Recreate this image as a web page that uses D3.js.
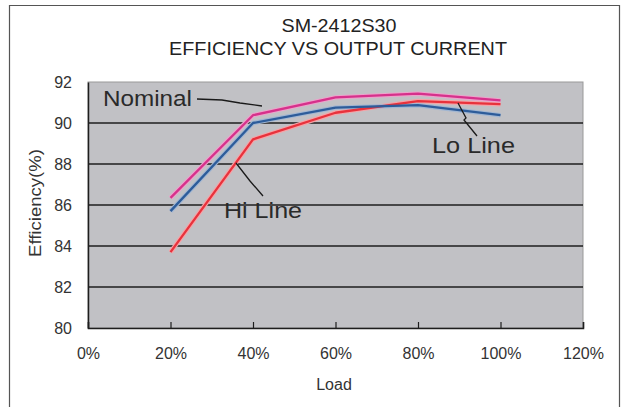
<!DOCTYPE html>
<html>
<head>
<meta charset="utf-8">
<script src="https://cdn.jsdelivr.net/npm/d3@7"></script>
<style>
  body { margin: 0; background: #fff; }
  svg { font-family: "Liberation Sans", Arial, sans-serif; }
</style>
</head>
<body>
<div id="chart"></div>
<script>
// load in % of rated output
var loads = [20, 40, 60, 80, 100];
var xTicks = [0, 20, 40, 60, 80, 100, 120];
var yTicks = [80, 82, 84, 86, 88, 90, 92];

// efficiency (%) per input line condition
var nominal = [86.35, 90.38, 91.25, 91.43, 91.1];
var loLine  = [85.7, 90.0, 90.75, 90.87, 90.38];
var hiLine  = [83.7, 89.2, 90.5, 91.07, 90.92];

var series = [
  { name: "Hi Line", values: hiLine, color: "#e8323c" },
  { name: "Lo Line", values: loLine, color: "#2d5c9a" },
  { name: "Nominal", values: nominal, color: "#d6318b" }
];

var width = 622, height = 407;
var margin = { top: 82, right: 39, bottom: 79, left: 88 };
var innerW = width - margin.left - margin.right;
var innerH = height - margin.top - margin.bottom;

var svg = d3.select("#chart").append("svg")
    .attr("width", width)
    .attr("height", height);

// outer frame (bottom edge runs off the picture)
svg.append("path")
    .attr("d", "M9.5,410 V5.5 H619.5 V410")
    .attr("fill", "none")
    .attr("stroke", "#555")
    .attr("stroke-width", 1.2);

// title
svg.append("text")
    .attr("x", 339).attr("y", 32)
    .attr("text-anchor", "middle")
    .attr("font-size", 18)
    .attr("fill", "#222")
    .attr("textLength", 115).attr("lengthAdjust", "spacingAndGlyphs")
    .text("SM-2412S30");
svg.append("text")
    .attr("x", 338).attr("y", 55)
    .attr("text-anchor", "middle")
    .attr("font-size", 18)
    .attr("fill", "#222")
    .attr("textLength", 338).attr("lengthAdjust", "spacingAndGlyphs")
    .text("EFFICIENCY VS OUTPUT CURRENT");

var plot = svg.append("g")
    .attr("transform", "translate(" + margin.left + "," + margin.top + ")");

var xScale = d3.scaleLinear().domain([0, 120]).range([0, innerW]);
var yScale = d3.scaleLinear().domain([80, 92]).range([innerH, 0]);

// grey plot area
plot.append("rect")
    .attr("width", innerW)
    .attr("height", innerH)
    .attr("fill", "#c1c1c5")
    .attr("stroke", "#999")
    .attr("stroke-width", 1);

// horizontal grid lines
plot.selectAll(".grid")
    .data(yTicks.filter(function(d) { return d > 80 && d < 92; }))
    .enter().append("line")
    .attr("class", "grid")
    .attr("x1", 0).attr("x2", innerW)
    .attr("y1", function(d) { return yScale(d); })
    .attr("y2", function(d) { return yScale(d); })
    .attr("stroke", "#1e1e1e")
    .attr("stroke-width", 1.3);

// axes
var xAxis = d3.axisBottom(xScale)
    .tickValues(xTicks)
    .tickSize(-6)
    .tickPadding(20)
    .tickFormat(function(d) { return d + "%"; });
var gx = plot.append("g")
    .attr("transform", "translate(0," + innerH + ")")
    .call(xAxis);

var yAxis = d3.axisLeft(yScale)
    .tickValues(yTicks)
    .tickSize(0)
    .tickPadding(16);
var gy = plot.append("g").call(yAxis);

[gx, gy].forEach(function(g) {
  g.select(".domain").attr("stroke", "#1e1e1e").attr("stroke-width", 1.5);
  g.selectAll(".tick line").attr("stroke", "#1e1e1e").attr("stroke-width", 1.2);
  g.selectAll("text")
      .attr("font-family", "'Liberation Sans', Arial, sans-serif")
      .attr("font-size", 16)
      .attr("fill", "#333");
});

// axis titles
svg.append("text")
    .attr("x", 334).attr("y", 390)
    .attr("text-anchor", "middle")
    .attr("font-size", 16)
    .attr("fill", "#333")
    .text("Load");
svg.append("text")
    .attr("transform", "translate(41,203) rotate(-90)")
    .attr("text-anchor", "middle")
    .attr("font-size", 16)
    .attr("fill", "#333")
    .attr("textLength", 108).attr("lengthAdjust", "spacingAndGlyphs")
    .text("Efficiency(%)");

// curves
var line = d3.line()
    .x(function(d, i) { return xScale(loads[i]); })
    .y(function(d) { return yScale(d); });

// a light halo under each curve, like the printed original
plot.selectAll(".halo")
    .data(series)
    .enter().append("path")
    .attr("class", "halo")
    .attr("d", function(d) { return line(d.values); })
    .attr("fill", "none")
    .attr("stroke", function(d) { return d3.interpolateRgb(d.color, "#fff")(0.55); })
    .attr("stroke-width", 4.5)
    .attr("stroke-linejoin", "round");

plot.selectAll(".curve")
    .data(series)
    .enter().append("path")
    .attr("class", "curve")
    .attr("d", function(d) { return line(d.values); })
    .attr("fill", "none")
    .attr("stroke", function(d) { return d.color; })
    .attr("stroke-width", 2.3)
    .attr("stroke-linejoin", "round");

// callout labels with leader lines
var callouts = [
  { text: "Nominal", x: 103, y: 106, w: 89, pts: [[197, 99], [222, 100], [240, 103], [262, 106]] },
  { text: "Hi Line", x: 224, y: 218, w: 78, pts: [[236, 163], [250, 181], [263, 196]] },
  { text: "Lo Line", x: 432, y: 153, w: 83, pts: [[458, 103], [466, 118], [464, 120], [477, 136]] }
];

callouts.forEach(function(c) {
  svg.append("text")
      .attr("x", c.x).attr("y", c.y)
      .attr("font-size", 22)
      .attr("fill", "#2a2a2a")
      .attr("textLength", c.w).attr("lengthAdjust", "spacingAndGlyphs")
      .text(c.text);
  svg.append("path")
      .attr("d", d3.line()(c.pts))
      .attr("fill", "none")
      .attr("stroke", "#1a1a1a")
      .attr("stroke-width", 1.3);
});
</script>
</body>
</html>
